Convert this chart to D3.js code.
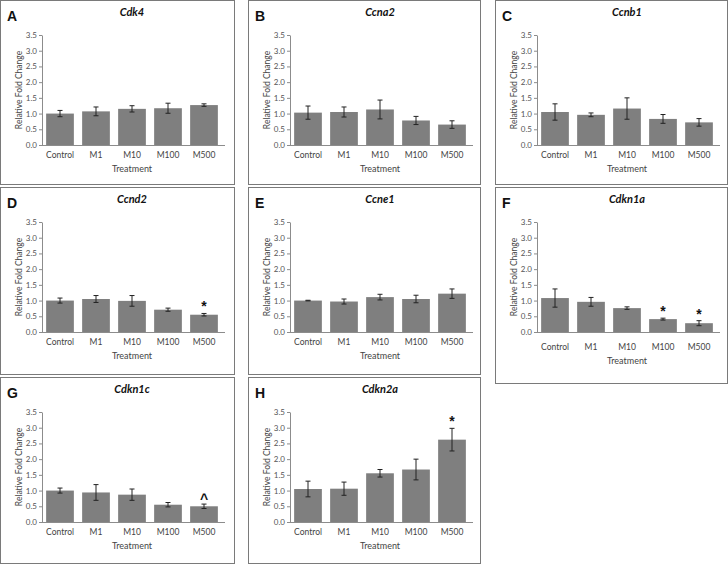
<!DOCTYPE html>
<html>
<head>
<meta charset="utf-8">
<script src="https://cdn.jsdelivr.net/npm/d3@7"></script>
<style>
  body { margin: 0; background: #fff; }
  svg { display: block; }
  .tick text { font-family: Lato, 'Open Sans', sans-serif; }
</style>
</head>
<body>
<script>
const categories = ['Control', 'M1', 'M10', 'M100', 'M500'];
const yTicks = [0, 0.5, 1, 1.5, 2, 2.5, 3, 3.5];
const letters = ['A', 'B', 'C', 'D', 'E', 'F', 'G', 'H'];
const genes = ['Cdk4', 'Ccna2', 'Ccnb1', 'Ccnd2', 'Ccne1', 'Cdkn1a', 'Cdkn1c', 'Cdkn2a'];

// mean fold change and error per gene
const cdk4Mean = [1.00, 1.07, 1.15, 1.17, 1.27];
const cdk4Err = [0.10, 0.14, 0.10, 0.16, 0.04];
const ccna2Mean = [1.03, 1.05, 1.13, 0.78, 0.65];
const ccna2Err = [0.21, 0.16, 0.30, 0.13, 0.12];
const ccnb1Mean = [1.05, 0.96, 1.16, 0.83, 0.72];
const ccnb1Err = [0.26, 0.06, 0.34, 0.14, 0.12];
const ccnd2Mean = [1.00, 1.05, 0.99, 0.71, 0.55];
const ccnd2Err = [0.08, 0.11, 0.17, 0.05, 0.04];
const ccne1Mean = [1.00, 0.97, 1.11, 1.05, 1.22];
const ccne1Err = [0.01, 0.08, 0.09, 0.12, 0.15];
const cdkn1aMean = [1.08, 0.96, 0.76, 0.41, 0.28];
const cdkn1aErr = [0.29, 0.14, 0.04, 0.03, 0.08];
const cdkn1cMean = [1.00, 0.94, 0.87, 0.55, 0.50];
const cdkn1cErr = [0.08, 0.25, 0.18, 0.07, 0.07];
const cdkn2aMean = [1.05, 1.06, 1.55, 1.67, 2.62];
const cdkn2aErr = [0.25, 0.21, 0.12, 0.33, 0.36];

// significance marks
const noMarks = ['', '', '', '', ''];
const ccnd2Marks = ['', '', '', '', '*'];
const cdkn1aMarks = ['', '', '', '*', '*'];
const cdkn1cMarks = ['', '', '', '', '^'];
const cdkn2aMarks = ['', '', '', '', '*'];

const means = [cdk4Mean, ccna2Mean, ccnb1Mean, ccnd2Mean, ccne1Mean, cdkn1aMean, cdkn1cMean, cdkn2aMean];
const errs = [cdk4Err, ccna2Err, ccnb1Err, ccnd2Err, ccne1Err, cdkn1aErr, cdkn1cErr, cdkn2aErr];
const marks = [noMarks, noMarks, noMarks, ccnd2Marks, noMarks, cdkn1aMarks, cdkn1cMarks, cdkn2aMarks];

// panel boxes
const boxes = [
  { x: 0, y: 0, w: 235, h: 185 },
  { x: 248, y: 0, w: 233, h: 185 },
  { x: 495, y: 0, w: 233, h: 185 },
  { x: 0, y: 187, w: 235, h: 188 },
  { x: 248, y: 187, w: 233, h: 188 },
  { x: 495, y: 187, w: 233, h: 197, lab: 5 },
  { x: 0, y: 377, w: 235, h: 187 },
  { x: 248, y: 377, w: 233, h: 187 }
];

const FONT = "Lato, 'Open Sans', sans-serif";
const BAR = '#7f7f7f';
const AXIS = '#8c8c8c';

const svg = d3.select('body').append('svg')
  .attr('width', 728)
  .attr('height', 564);

const x = d3.scaleBand()
  .domain(categories)
  .range([42, 222])
  .paddingInner(0.23)
  .paddingOuter(0.115);

const y = d3.scaleLinear()
  .domain([0, 3.5])
  .range([145, 35]);

genes.forEach((gene, i) => {
  const b = boxes[i];
  const labShift = b.lab || 0;
  const g = svg.append('g')
    .attr('transform', 'translate(' + b.x + ',' + b.y + ')');

  // frame
  g.append('rect')
    .attr('x', 0.5).attr('y', 0.5)
    .attr('width', b.w - 1).attr('height', b.h - 1)
    .attr('fill', '#fff')
    .attr('stroke', '#7a7a7a')
    .attr('stroke-width', 1);

  // panel letter
  g.append('text')
    .attr('x', 7).attr('y', 21)
    .attr('font-family', "'Liberation Sans', Arial, sans-serif")
    .attr('font-weight', 'bold')
    .attr('font-size', 14)
    .attr('fill', '#111')
    .text(letters[i]);

  // gene title
  g.append('text')
    .attr('x', 132).attr('y', 15.5)
    .attr('text-anchor', 'middle')
    .attr('font-family', FONT)
    .attr('font-weight', 'bold')
    .attr('font-style', 'italic')
    .attr('font-size', 11)
    .attr('fill', '#111')
    .text(gene);

  // y axis
  const ya = g.append('g')
    .attr('transform', 'translate(42,0)')
    .call(d3.axisLeft(y).tickValues(yTicks).tickSize(3).tickSizeOuter(0).tickFormat(d3.format('.1f')));
  ya.select('.domain').attr('stroke', AXIS);
  ya.selectAll('.tick line').attr('stroke', AXIS);
  ya.selectAll('.tick text').attr('font-size', 8).attr('fill', '#555').attr('x', -5);

  // bars
  g.selectAll('rect.bar')
    .data(categories)
    .enter()
    .append('rect')
    .attr('class', 'bar')
    .attr('x', d => x(d))
    .attr('width', x.bandwidth())
    .attr('y', (d, j) => y(means[i][j]))
    .attr('height', (d, j) => y(0) - y(means[i][j]))
    .attr('fill', BAR);

  // x axis
  const xa = g.append('g')
    .attr('transform', 'translate(0,' + y(0) + ')')
    .call(d3.axisBottom(x).tickSize(0).tickSizeOuter(0).tickPadding(7 + labShift));
  xa.select('.domain').attr('stroke', AXIS).attr('d', 'M42,0.5H225');
  xa.selectAll('.tick text').attr('font-size', 8.5).attr('fill', '#444');

  // error bars
  const eb = g.selectAll('g.err')
    .data(categories)
    .enter()
    .append('g')
    .attr('class', 'err')
    .attr('stroke', '#222')
    .attr('stroke-width', 1);
  const cx = d => x(d) + x.bandwidth() / 2;
  eb.append('line')
    .attr('x1', cx).attr('x2', cx)
    .attr('y1', (d, j) => y(means[i][j] + errs[i][j]))
    .attr('y2', (d, j) => y(means[i][j] - errs[i][j]));
  eb.append('line')
    .attr('x1', d => cx(d) - 2.5).attr('x2', d => cx(d) + 2.5)
    .attr('y1', (d, j) => y(means[i][j] + errs[i][j]))
    .attr('y2', (d, j) => y(means[i][j] + errs[i][j]));
  eb.append('line')
    .attr('x1', d => cx(d) - 2.5).attr('x2', d => cx(d) + 2.5)
    .attr('y1', (d, j) => y(means[i][j] - errs[i][j]))
    .attr('y2', (d, j) => y(means[i][j] - errs[i][j]));

  // significance marks
  g.selectAll('text.mark')
    .data(categories)
    .enter()
    .append('text')
    .attr('class', 'mark')
    .attr('x', cx)
    .attr('y', (d, j) => y(means[i][j] + errs[i][j]) - (marks[i][j] === '^' ? 0 : 2))
    .attr('text-anchor', 'middle')
    .attr('font-family', "'Liberation Sans', Arial, sans-serif")
    .attr('font-weight', 'bold')
    .attr('font-size', d => 14)
    .attr('fill', '#111')
    .text((d, j) => marks[i][j]);

  // axis titles
  g.append('text')
    .attr('transform', 'translate(19,90) rotate(-90)')
    .attr('text-anchor', 'middle')
    .attr('dy', '0.35em')
    .attr('font-family', FONT)
    .attr('font-size', 8.5)
    .attr('fill', '#444')
    .text('Relative Fold Change');

  g.append('text')
    .attr('x', 132).attr('y', 172 + labShift)
    .attr('text-anchor', 'middle')
    .attr('font-family', FONT)
    .attr('font-size', 9)
    .attr('fill', '#444')
    .text('Treatment');
});
</script>
</body>
</html>
